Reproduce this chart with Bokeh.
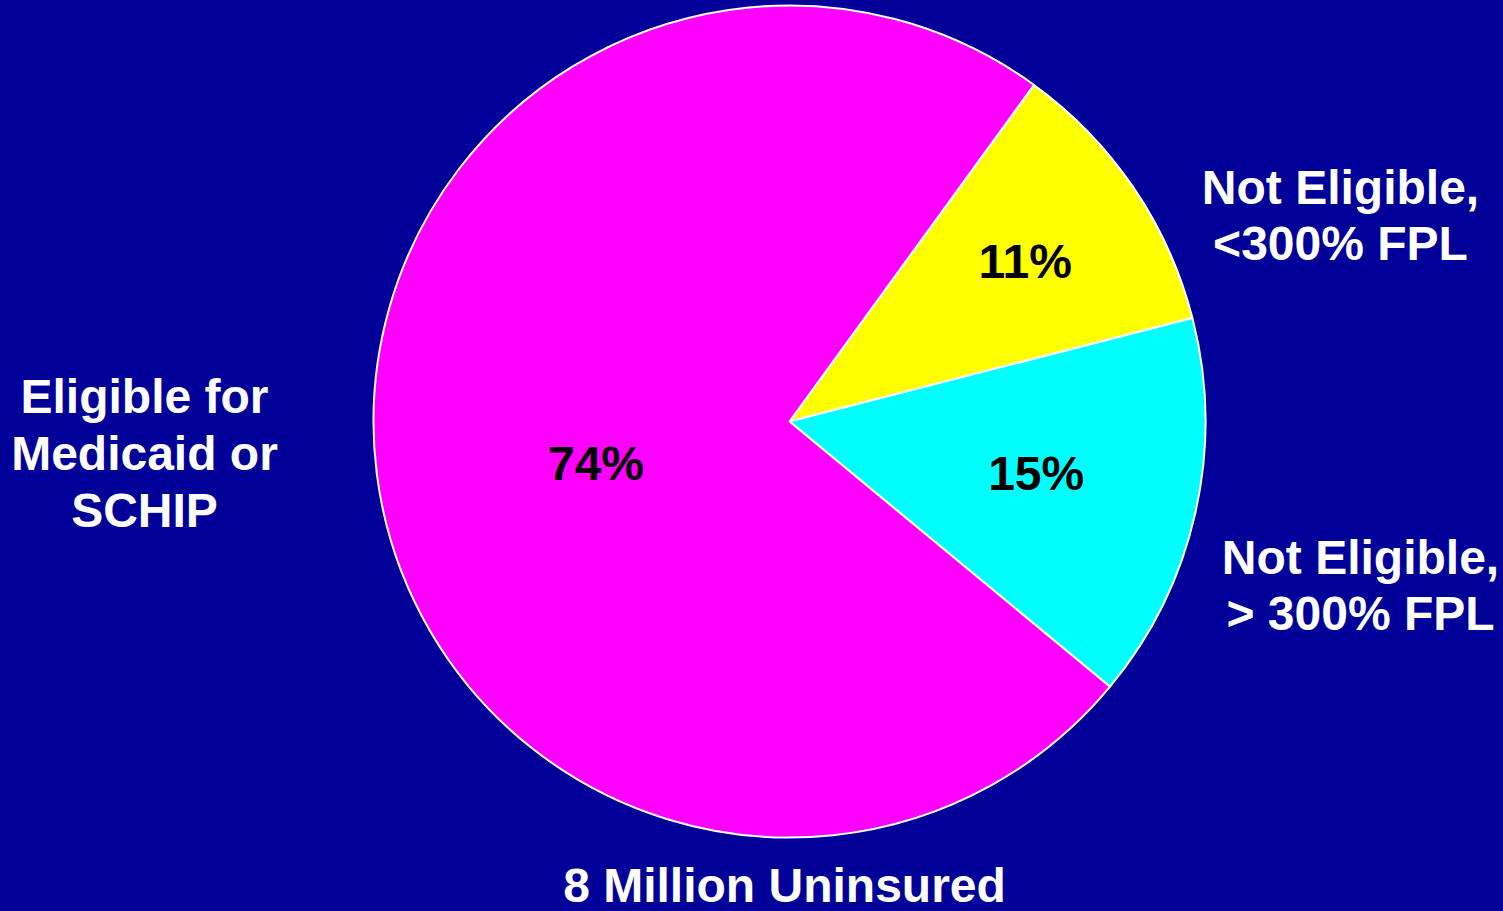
import math
from bokeh.plotting import figure
from bokeh.models import Range1d, ColumnDataSource
from bokeh.core.properties import value
from bokeh.embed import file_html
from bokeh.resources import INLINE

# ---- data ----
categories = ["Not Eligible, <300% FPL", "Not Eligible, > 300% FPL", "Eligible for Medicaid or SCHIP"]
shares = [11, 15, 74]
pct_labels = ["11%", "15%", "74%"]
colors = ["#FFFF00", "#00FFFF", "#FF00FF"]
title = "8 Million Uninsured"

BG = "#000099"
W, H = 1503, 911
cx, cy, R = 789, 490, 416
start_deg = 54.0
label_r = [285, 252, 198]
label_da = [0.0, 0.8, 5.0]
FS = "48px"

# angles (clockwise from start)
total = sum(shares)
starts, ends, mids = [], [], []
a = start_deg
for s in shares:
    span = 360.0 * s / total
    starts.append(math.radians(a))
    ends.append(math.radians(a - span))
    mids.append(a - span / 2)
    a -= span

src = ColumnDataSource(dict(x=[cx] * 3, y=[cy] * 3, start=starts, end=ends, color=colors))

p = figure(width=W, height=H, x_range=Range1d(0, W), y_range=Range1d(0, H),
           output_backend="svg", toolbar_location=None, min_border=0)
p.axis.visible = False
p.grid.visible = False
p.outline_line_color = None
p.background_fill_color = BG
p.border_fill_color = BG

p.wedge(x="x", y="y", radius=R, start_angle="start", end_angle="end", direction="clock",
        fill_color="color", line_color="white", line_width=2, source=src)

lx = [cx + r * math.cos(math.radians(m + d)) for r, m, d in zip(label_r, mids, label_da)]
ly = [cy + r * math.sin(math.radians(m + d)) for r, m, d in zip(label_r, mids, label_da)]
p.text(x=lx, y=ly, text=pct_labels, text_font=value("Liberation Sans"), text_font_style="bold",
       text_font_size=FS, text_color="black", text_align="center", text_baseline="middle")

outer_text = ["Not Eligible,\n<300% FPL", "Not Eligible,\n> 300% FPL", "Eligible for\nMedicaid or\nSCHIP"]
outer_x = [1340, 1360, 144]
outer_y = [696, 326, 458]
p.text(x=outer_x, y=outer_y, text=outer_text, text_font=value("Liberation Sans"), text_font_style="bold",
       text_font_size=FS, text_color="white", text_align="center", text_baseline="middle",
       text_line_height=1.07)

p.text(x=[784], y=[26], text=[title], text_font=value("Liberation Sans"), text_font_style="bold",
       text_font_size=FS, text_color="white", text_align="center", text_baseline="alphabetic")

html = file_html(p, INLINE)
style = "<style>html,body{margin:0;padding:0;background-color:%s;overflow:hidden;}</style>" % BG
html = html.replace("</head>", style + "</head>", 1)
open("out.html", "w").write(html)
